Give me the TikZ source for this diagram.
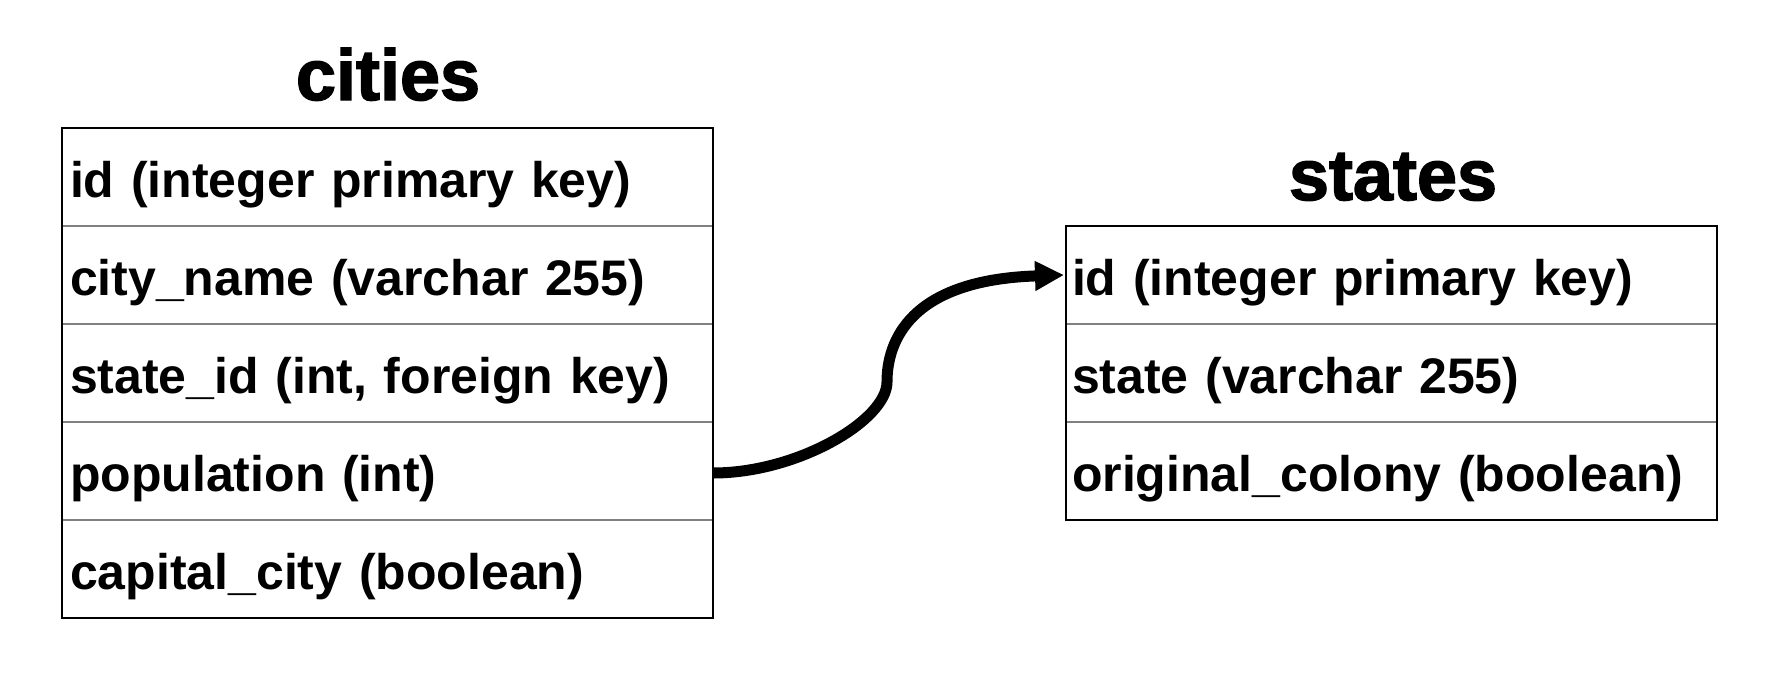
\documentclass[tikz,border=0pt]{standalone}
\usepackage{fontspec}
\setmainfont{Liberation Sans}
\newfontfamily\titlefont[FakeBold=2]{Liberation Sans Bold}
\usetikzlibrary{arrows.meta}
\definecolor{sepgray}{HTML}{808080}
\tikzset{
  tabrow/.style={rectangle, draw=sepgray, line width=2pt, minimum width=651pt,
    minimum height=98pt, inner ysep=0pt, outer sep=0pt, align=left,
    text height=50pt, text depth=10pt,
    font=\fontsize{50}{60}\selectfont\bfseries},
  crow/.style={tabrow, inner xsep=8pt, text width=635pt},
  srow/.style={tabrow, inner xsep=6pt, text width=639pt},
  tabtitle/.style={anchor=base, inner sep=0pt, font=\titlefont\fontsize{72}{80}\selectfont},
  frame/.style={draw=black, line width=2pt},
  conn/.style={draw=black, line width=11pt, -{Triangle[length=29pt,width=28pt]}}
}
\begin{document}
\begin{tikzpicture}[x=1pt,y=-1pt]
\useasboundingbox[fill=white] (0,0) rectangle (1785,689);
% cities table
\node[tabtitle] (ctitle) at (388,100) {cities};
\node[crow] (c1) at (387.5,177) {id (integer primary key)};
\node[crow] (c2) at (387.5,275) {city\_name (varchar 255)};
\node[crow] (c3) at (387.5,373) {state\_id (int, foreign key)};
\node[crow] (c4) at (387.5,471) {population (int)};
\node[crow] (c5) at (387.5,569) {capital\_city (boolean)};
\draw[frame] (c1.north west) rectangle (c5.south east);
% states table
\node[tabtitle] (stitle) at (1393,200) {states};
\node[srow] (s1) at (1391.5,275) {id (integer primary key)};
\node[srow] (s2) at (1391.5,373) {state (varchar 255)};
\node[srow] (s3) at (1391.5,471) {original\_colony (boolean)};
\draw[frame] (s1.north west) rectangle (s3.south east);
% connector
\coordinate (bend) at (887,382);
\draw[conn] ([yshift=-2pt]c4.east) .. controls +(85,0) and +(0,38) .. (bend)
  .. controls +(0,-40) and +(-155,5) .. ([xshift=-2pt]s1.west);
\end{tikzpicture}
\end{document}
